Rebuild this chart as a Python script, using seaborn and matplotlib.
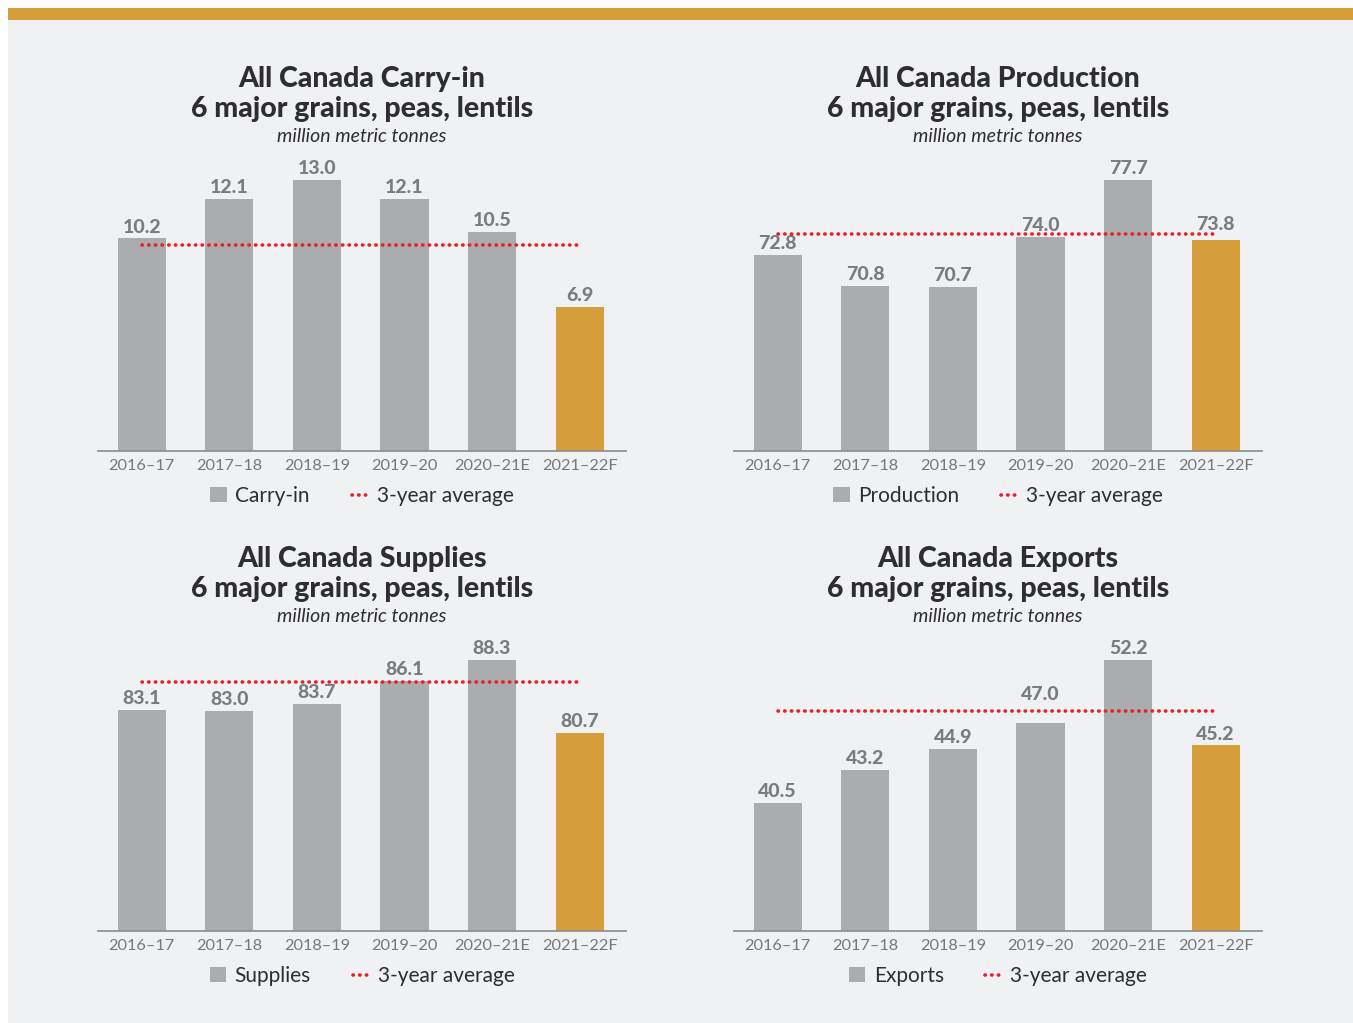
import matplotlib
matplotlib.use("Agg")
import matplotlib.pyplot as plt
import matplotlib.patches as mpatches
from matplotlib.lines import Line2D
import seaborn as sns

# Data
seasons = ["2016–17", "2017–18", "2018–19", "2019–20", "2020–21E", "2021–22F"]
carry_in = [10.2, 12.1, 13.0, 12.1, 10.5, 6.9]
production = [72.8, 70.8, 70.7, 74.0, 77.7, 73.8]
supplies = [83.1, 83.0, 83.7, 86.1, 88.3, 80.7]
exports = [40.5, 43.2, 44.9, 47.0, 52.2, 45.2]
avg_carry_in = 9.9
avg_production = 74.2
avg_supplies = 86.0
avg_exports = 48.0

titles = ["All Canada Carry-in", "All Canada Production",
          "All Canada Supplies", "All Canada Exports"]
series_names = ["Carry-in", "Production", "Supplies", "Exports"]
y_floor = [0, 60, 60, 30]

BG = "#f0f1f3"
GRAY = "#abacae"
GOLD = "#d69e3a"
RED = "#e8202a"
LABEL = "#7b7c7e"
DARK = "#2e2e30"
DOTS = (0, (0.1, 1.75))
# labels nudged up so they clear the average line
label_lift = {(1, 5): 3, (3, 3): 13}

sns.set_theme(style="white")
plt.rcParams["font.family"] = ["Lato", "DejaVu Sans"]

W, H = 1353, 1023
fig = plt.figure(figsize=(W / 100, H / 100), dpi=100)
fig.patch.set_facecolor("white")

# panel background and gold band
fig.add_artist(mpatches.Rectangle((8 / W, 0), 1, 1 - 20 / H, transform=fig.transFigure,
                                  facecolor=BG, edgecolor="none", zorder=0))
fig.add_artist(mpatches.Rectangle((8 / W, 1 - 20 / H), 1, 12 / H, transform=fig.transFigure,
                                  facecolor=GOLD, edgecolor="none", zorder=0))

panels = [
    (carry_in, avg_carry_in, 98, 451),
    (production, avg_production, 734, 451),
    (supplies, avg_supplies, 98, 931),
    (exports, avg_exports, 734, 931),
]

for i, (vals, avg, px, base) in enumerate(panels):
    ax = fig.add_axes([px / W, (H - base) / H, 528 / W, 291 / H])
    ax.set_facecolor("none")
    sns.barplot(x=seasons, y=vals, hue=seasons, palette=[GRAY] * 5 + [GOLD],
                legend=False, width=0.55, saturation=1, linewidth=0,
                edgecolor="none", ax=ax)
    lo = y_floor[i]
    hi = lo + (max(vals) - lo) * 291 / 271
    ax.set_ylim(lo, hi)
    ax.set_xlim(-0.5, 5.53)
    ax.plot([0, 5], [avg, avg], color=RED, lw=2.6, linestyle=DOTS,
            dash_capstyle="round", zorder=5)
    for j, c in enumerate(ax.containers):
        ax.bar_label(c, fmt="%.1f", padding=2 + label_lift.get((i, j), 0),
                     color=LABEL, fontsize=14, fontweight="black")
    for s in ["top", "left", "right"]:
        ax.spines[s].set_visible(False)
    ax.spines["bottom"].set_color("#8c8c8e")
    ax.spines["bottom"].set_linewidth(1.2)
    ax.set_yticks([])
    ax.tick_params(axis="x", length=0, pad=6, labelsize=11.8, labelcolor="#77787a")
    ax.set_xlabel("")
    ax.set_ylabel("")

    cx = (px + 264) / W
    top = base - 451 + 79
    fig.text(cx, 1 - top / H, titles[i], ha="center", va="center",
             fontsize=20.5, fontweight="black", color=DARK)
    fig.text(cx, 1 - (top + 30) / H, "6 major grains, peas, lentils", ha="center",
             va="center", fontsize=20.5, fontweight="black", color=DARK)
    fig.text(cx, 1 - (top + 57) / H, "million metric tonnes", ha="center", va="center",
             fontsize=14, fontstyle="italic", color=DARK)

    handles = [
        mpatches.Patch(facecolor=GRAY, edgecolor="none", label=series_names[i]),
        Line2D([0], [0], color=RED, lw=2.6, linestyle=DOTS,
               dash_capstyle="round", label="3-year average"),
    ]
    ax.legend(handles=handles, loc="center", ncol=2, frameon=False,
              bbox_to_anchor=(cx, 1 - (base + 45) / H), bbox_transform=fig.transFigure,
              fontsize=15, handlelength=0.8, handleheight=0.7, handletextpad=0.4,
              columnspacing=2.0, labelcolor=DARK)

fig.savefig("out.png", dpi=100, facecolor=fig.get_facecolor())
